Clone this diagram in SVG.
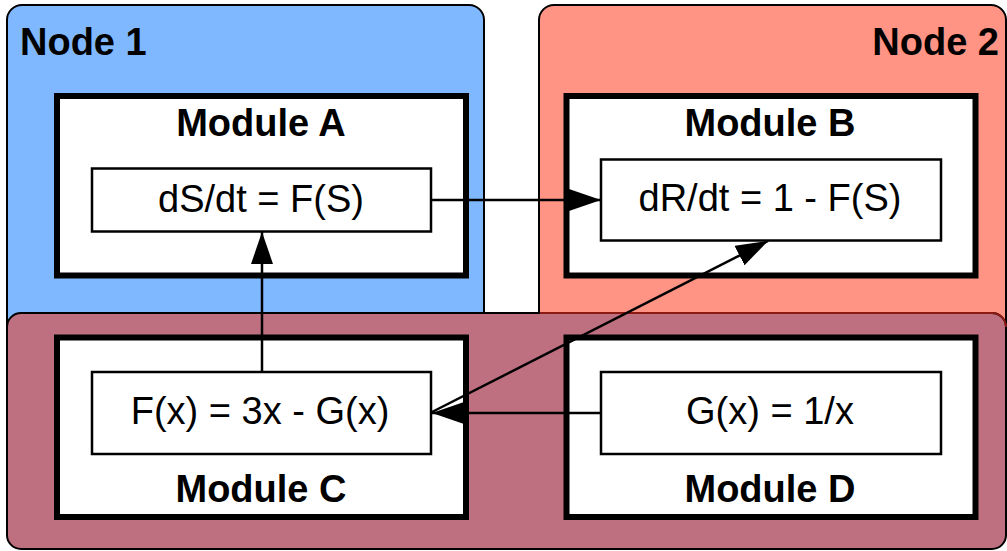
<svg xmlns="http://www.w3.org/2000/svg" width="1007" height="551" viewBox="0 0 1007 551">
  <style>
    .host { stroke: #000; stroke-width: 2; }
    .module { fill: #fff; stroke: #000; stroke-width: 6; }
    .eq { fill: #fff; stroke: #000; stroke-width: 2.5; }
    .title { font-family: "Liberation Sans", Arial, sans-serif; font-weight: bold; font-size: 38px; fill: #000; }
    .label { font-family: "Liberation Sans", Arial, sans-serif; font-size: 38px; fill: #000; text-anchor: middle; }
    .mod-title { text-anchor: middle; }
    .link { stroke: #000; stroke-width: 2.5; fill: none; marker-end: url(#head); }
  </style>
  <defs>
    <marker id="head" viewBox="0 0 32 22" refX="32" refY="11" markerWidth="32" markerHeight="22" markerUnits="userSpaceOnUse" orient="auto">
      <path d="M0,0 L32,11 L0,22 Z" fill="#000"/>
    </marker>
  </defs>

  <rect width="1007" height="551" fill="#fff"/>

  <!-- host containers -->
  <g id="node1">
    <rect class="host" x="7" y="5" width="477" height="340" rx="15" fill="#80B8FF"/>
    <text class="title" x="20" y="55">Node 1</text>
  </g>
  <g id="node2">
    <rect class="host" x="539" y="5" width="467" height="340" rx="15" fill="#FF9485"/>
    <text class="title" x="999" y="55" text-anchor="end">Node 2</text>
  </g>
  <g id="node3">
    <rect class="host" x="7" y="313" width="999" height="236" rx="14" fill="#BF7080"/>
    <path d="M540,313 H992 A14,14 0 0 1 1006,327" fill="none" stroke="#8C1A12" stroke-width="2"/>
  </g>

  <!-- modules -->
  <g id="moduleA">
    <rect class="module" x="57" y="96" width="409" height="179.5"/>
    <text class="title mod-title" x="261" y="136">Module A</text>
    <rect class="eq" x="92" y="168.5" width="339" height="63"/>
    <text class="label" x="261" y="211.5">dS/dt = F(S)</text>
  </g>
  <g id="moduleB">
    <rect class="module" x="566.5" y="96" width="409" height="179.5"/>
    <text class="title mod-title" x="770" y="136">Module B</text>
    <rect class="eq" x="601" y="159.5" width="340" height="81"/>
    <text class="label" x="770" y="211">dR/dt = 1 - F(S)</text>
  </g>
  <g id="moduleC">
    <rect class="module" x="57" y="337.5" width="409" height="179.5"/>
    <rect class="eq" x="92" y="372" width="339" height="82"/>
    <text class="label" x="260" y="424">F(x) = 3x - G(x)</text>
    <text class="title mod-title" x="261" y="501.5">Module C</text>
  </g>
  <g id="moduleD">
    <rect class="module" x="566.5" y="337.5" width="409" height="179.5"/>
    <rect class="eq" x="601" y="372" width="340" height="82"/>
    <text class="label" x="770" y="424">G(x) = 1/x</text>
    <text class="title mod-title" x="770" y="501.5">Module D</text>
  </g>

  <!-- connectors -->
  <g id="connectors">
    <line class="link" x1="431" y1="200" x2="601" y2="200"/>
    <line class="link" x1="262" y1="372" x2="262" y2="232"/>
    <line class="link" x1="601" y1="413" x2="432" y2="413"/>
    <line class="link" x1="432" y1="412" x2="768" y2="241"/>
  </g>
</svg>
